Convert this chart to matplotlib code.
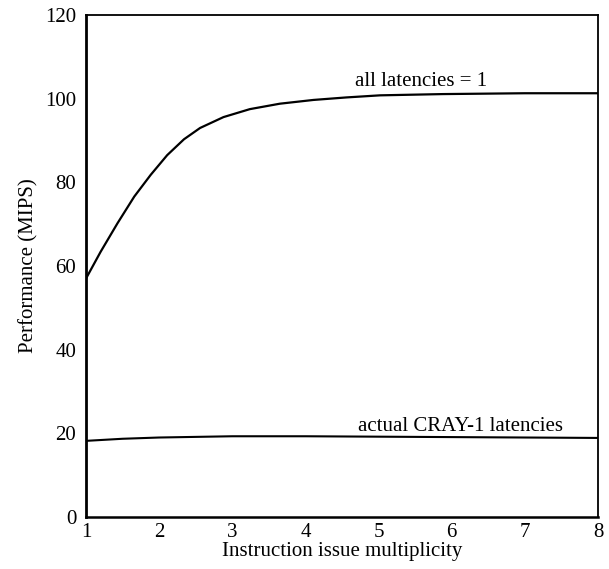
import matplotlib
matplotlib.use("Agg")
import matplotlib.pyplot as plt
import numpy as np

plt.rcParams['font.family'] = ['Liberation Serif', 'DejaVu Serif']

# data
x_all = [1.0, 1.2, 1.43, 1.66, 1.885, 2.11, 2.34, 2.56, 2.88, 3.24, 3.65, 4.11, 4.56, 5.02, 5.88, 7.0, 8.0]
y_all = [57.0, 63.4, 70.2, 76.6, 81.8, 86.5, 90.3, 93.0, 95.6, 97.5, 98.8, 99.7, 100.3, 100.8, 101.1, 101.3, 101.3]
x_cray = [1, 1.5, 2, 3, 4, 5, 6, 7, 8]
y_cray = [18.2, 18.7, 19.0, 19.3, 19.3, 19.2, 19.1, 19.0, 18.9]
xticks = [1, 2, 3, 4, 5, 6, 7, 8]
yticks = [0, 20, 40, 60, 80, 100, 120]

fig = plt.figure(figsize=(6.09, 5.69), dpi=100)
ax = fig.add_axes([0.1412, 0.0914, 0.8407, 0.8822])
ax.plot(x_all, y_all, color='black', lw=1.6, solid_joinstyle='round')
ax.plot(x_cray, y_cray, color='black', lw=1.5, solid_joinstyle='round')
ax.set_xlim(1, 8)
ax.set_ylim(0, 120)
ax.set_xticks(xticks)
ax.set_yticks(yticks)
ax.tick_params(length=0, labelsize=15, pad=7)
ax.tick_params(axis='x', pad=4)
for s in ax.spines.values():
    s.set_linewidth(1.3)
ax.spines['left'].set_linewidth(2)
ax.spines['bottom'].set_linewidth(1.8)
ax.set_xlabel('Instruction issue multiplicity', fontsize=15, labelpad=0)
ax.set_ylabel('Performance (MIPS)', fontsize=15, labelpad=5)
ax.text(5.58, 103.0, 'all latencies = 1', ha='center', va='baseline', fontsize=15)
ax.text(6.12, 20.6, 'actual CRAY-1 latencies', ha='center', va='baseline', fontsize=15)
fig.savefig('out.png', dpi=100)
